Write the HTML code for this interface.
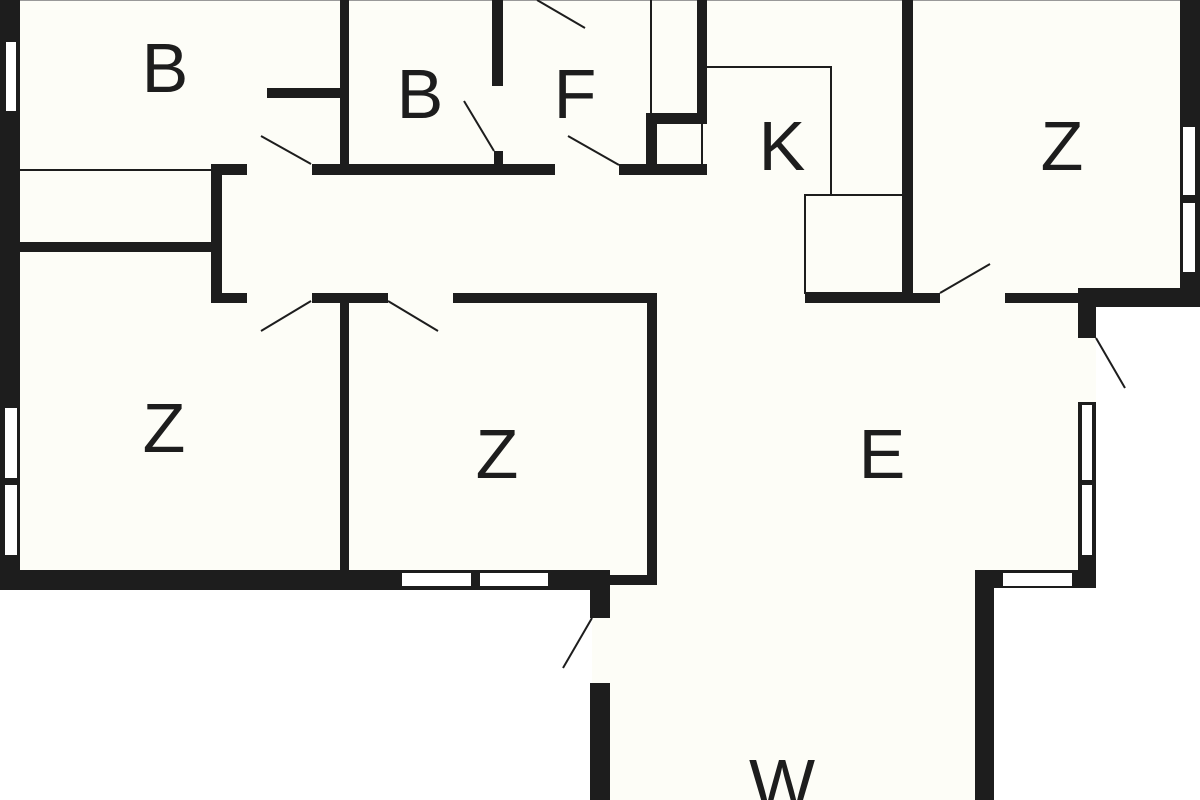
<!DOCTYPE html>
<html><head><style>
html,body{margin:0;padding:0;background:#fff;}
svg{display:block}
text{font-family:"Liberation Sans",sans-serif;font-size:70px;fill:#1d1d1d;text-anchor:middle}
</style></head><body>
<svg width="1200" height="800" viewBox="0 0 1200 800" xmlns="http://www.w3.org/2000/svg">
<rect width="1200" height="800" fill="#fdfdf7"/>
<!-- exterior -->
<rect x="0" y="590" width="592" height="210" fill="#fff"/>
<rect x="994" y="588" width="206" height="212" fill="#fff"/>
<rect x="1096" y="307" width="104" height="281" fill="#fff"/>
<line x1="0" y1="0.5" x2="1200" y2="0.5" stroke="#999" stroke-width="1"/>
<g fill="#1d1d1d">
<!-- left outer wall -->
<rect x="0" y="0" width="20" height="590"/>
<!-- bottom left wall -->
<rect x="0" y="570" width="610" height="20"/>
<rect x="610" y="575" width="47" height="10"/>
<!-- B room walls -->
<rect x="20" y="242" width="193" height="10"/>
<rect x="211" y="164" width="11" height="139"/>
<rect x="211" y="164" width="36" height="11"/>
<rect x="312" y="164" width="243" height="11"/>
<rect x="619" y="164" width="88" height="11"/>
<rect x="211" y="293" width="36" height="10"/>
<rect x="312" y="293" width="76" height="10"/>
<rect x="453" y="293" width="204" height="10"/>
<rect x="647" y="293" width="10" height="290"/>
<rect x="340" y="0" width="9" height="164"/>
<rect x="340" y="303" width="9" height="270"/>
<rect x="267" y="88" width="73" height="10"/>
<rect x="492" y="0" width="11" height="86"/>
<rect x="494" y="151" width="9" height="14"/>
<rect x="697" y="0" width="10" height="124"/>
<rect x="646" y="113" width="61" height="11"/>
<rect x="646" y="113" width="11" height="60"/>
<!-- K/Z -->
<rect x="902" y="0" width="11" height="298"/>
<rect x="805" y="293" width="135" height="10"/>
<rect x="1005" y="293" width="91" height="10"/>
<rect x="1078" y="288" width="122" height="19"/>
<rect x="1180" y="0" width="20" height="307"/>
<rect x="1078" y="288" width="18" height="50"/>
<rect x="1078" y="402" width="18" height="186"/>
<rect x="975" y="570" width="121" height="18"/>
<rect x="975" y="570" width="19" height="230"/>
<rect x="590" y="570" width="20" height="48"/>
<rect x="590" y="683" width="20" height="117"/>
</g>
<!-- windows -->
<g fill="#fff">
<rect x="6" y="42" width="10" height="69"/>
<rect x="5" y="408" width="12" height="70"/>
<rect x="5" y="485" width="12" height="70"/>
<rect x="402" y="573" width="69" height="13"/>
<rect x="480" y="573" width="68" height="13"/>
<rect x="1003" y="573" width="69" height="13"/>
<rect x="1183" y="127" width="12" height="68"/>
<rect x="1183" y="203" width="12" height="69"/>
<rect x="1082" y="405" width="10" height="75"/>
<rect x="1082" y="485" width="10" height="70"/>
</g>
<!-- thin lines -->
<g stroke="#1d1d1d" stroke-width="2" fill="none">
<line x1="20" y1="170" x2="211" y2="170"/>
<line x1="651" y1="0" x2="651" y2="113"/>
<line x1="702" y1="124" x2="702" y2="164"/>
<polyline points="707,67 831,67 831,195"/>
<rect x="805" y="195" width="98" height="98"/>
<line x1="261" y1="136" x2="311" y2="164"/>
<line x1="464" y1="101" x2="494" y2="151"/>
<line x1="568" y1="136" x2="619" y2="165"/>
<line x1="537" y1="0" x2="585" y2="28"/>
<line x1="261" y1="331" x2="311" y2="301"/>
<line x1="388" y1="301" x2="438" y2="331"/>
<line x1="940" y1="293" x2="990" y2="264"/>
<line x1="1096" y1="338" x2="1125" y2="388"/>
<line x1="592" y1="618" x2="563" y2="668"/>
</g>
<text x="165" y="92">B</text>
<text x="420" y="118">B</text>
<text x="575" y="118">F</text>
<text x="782" y="170">K</text>
<text x="1062" y="170">Z</text>
<text x="164" y="452">Z</text>
<text x="497" y="478">Z</text>
<text x="882" y="478">E</text>
<text x="782" y="808">W</text>
</svg>
</body></html>
